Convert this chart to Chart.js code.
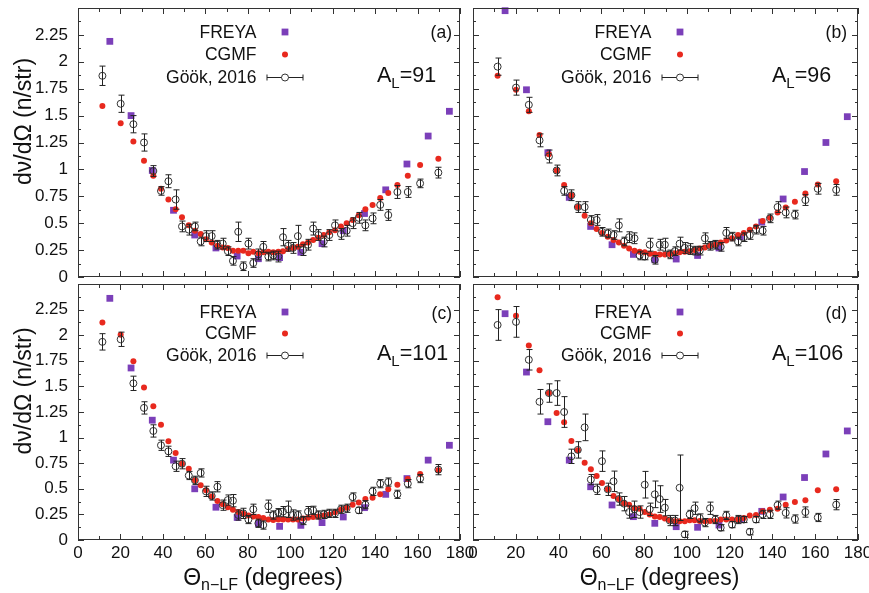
<!DOCTYPE html>
<html>
<head>
<meta charset="utf-8">
<script src="https://cdn.jsdelivr.net/npm/chart.js@4.4.1/dist/chart.umd.min.js"></script>
<style>
  html, body { margin: 0; padding: 0; background: #fff; overflow: hidden; }
  #wrap { position: relative; width: 869px; height: 593px; overflow: hidden; }
  #wrap canvas { position: absolute; left: -40px; top: -40px; }
</style>
</head>
<body>
<div id="wrap">
  <canvas id="pa" width="949" height="673"></canvas>
  <canvas id="pb" width="949" height="673"></canvas>
  <canvas id="pc" width="949" height="673"></canvas>
  <canvas id="pd" width="949" height="673"></canvas>
</div>
<script>
// angles (degrees)
const freyaAngles = [15, 25, 35, 45, 55, 65, 75, 85, 95, 105, 115, 125, 135, 145, 155, 165, 175]
const binAngles = [11.5, 20.1, 26.1, 31.1, 35.5, 39.1, 42.6, 46.0, 49.0, 52.2,
  55.1, 57.8, 60.3, 63.0, 65.7, 68.2, 70.6, 73.0, 75.5, 77.9,
  80.3, 82.6, 85.0, 87.3, 89.7, 92.0, 94.4, 96.6, 99.0, 101.3,
  103.6, 106.0, 108.4, 110.8, 113.3, 115.8, 118.4, 121.1, 123.9, 126.6,
  129.4, 132.3, 135.4, 138.8, 142.4, 146.2, 150.5, 155.4, 161.2, 169.8]

// (a) A_L = 91
const freyaA = [2.19, 1.50, 0.99, 0.62, 0.39, 0.27, 0.195, 0.17, 0.18, 0.23, 0.31, 0.43, 0.59, 0.81, 1.05, 1.31, 1.54]
const cgmfA = [1.59, 1.43, 1.26, 1.08, 0.94, 0.82, 0.72, 0.63, 0.555, 0.48,
  0.43, 0.40, 0.35, 0.32, 0.29, 0.275, 0.27, 0.245, 0.245, 0.245,
  0.22, 0.235, 0.22, 0.23, 0.235, 0.23, 0.235, 0.24, 0.26, 0.27,
  0.28, 0.305, 0.32, 0.345, 0.365, 0.39, 0.415, 0.435, 0.47, 0.50,
  0.53, 0.575, 0.63, 0.67, 0.735, 0.78, 0.855, 0.94, 1.04, 1.10]
const gookA = [1.87, 1.61, 1.42, 1.25, 0.985, 0.80, 0.89, 0.72, 0.47, 0.44,
  0.47, 0.33, 0.38, 0.38, 0.30, 0.31, 0.24, 0.15, 0.42, 0.10,
  0.31, 0.13, 0.21, 0.28, 0.19, 0.20, 0.19, 0.37, 0.29, 0.27,
  0.38, 0.25, 0.30, 0.45, 0.39, 0.33, 0.39, 0.48, 0.40, 0.43,
  0.50, 0.55, 0.48, 0.545, 0.67, 0.576, 0.79, 0.79, 0.87, 0.97]
const gookErrA = [0.09, 0.08, 0.08, 0.08, 0.05, 0.04, 0.06, 0.09, 0.05, 0.05,
  0.04, 0.04, 0.05, 0.05, 0.04, 0.05, 0.04, 0.04, 0.09, 0.04,
  0.05, 0.04, 0.05, 0.05, 0.04, 0.04, 0.05, 0.08, 0.05, 0.05,
  0.10, 0.05, 0.05, 0.06, 0.05, 0.05, 0.05, 0.05, 0.05, 0.05,
  0.05, 0.05, 0.05, 0.05, 0.05, 0.05, 0.06, 0.05, 0.04, 0.05]

// (b) A_L = 96
const freyaB = [2.475, 1.74, 1.155, 0.74, 0.47, 0.30, 0.21, 0.16, 0.167, 0.20, 0.27, 0.375, 0.51, 0.725, 0.98, 1.25, 1.49]
const cgmfB = [1.87, 1.74, 1.54, 1.32, 1.14, 0.99, 0.855, 0.76, 0.65, 0.57,
  0.50, 0.446, 0.41, 0.375, 0.344, 0.32, 0.29, 0.266, 0.245, 0.235,
  0.23, 0.217, 0.214, 0.21, 0.21, 0.214, 0.22, 0.23, 0.235, 0.24,
  0.25, 0.265, 0.275, 0.29, 0.30, 0.32, 0.34, 0.36, 0.39, 0.41,
  0.44, 0.47, 0.52, 0.55, 0.60, 0.645, 0.70, 0.775, 0.86, 0.89]
const gookB = [1.955, 1.76, 1.60, 1.27, 1.12, 0.99, 0.80, 0.76, 0.65, 0.65,
  0.53, 0.53, 0.42, 0.405, 0.39, 0.48, 0.33, 0.37, 0.36, 0.20,
  0.19, 0.30, 0.16, 0.30, 0.30, 0.21, 0.24, 0.31, 0.27, 0.26,
  0.245, 0.245, 0.36, 0.29, 0.30, 0.28, 0.41, 0.375, 0.33, 0.37,
  0.39, 0.44, 0.43, 0.545, 0.65, 0.60, 0.58, 0.715, 0.82, 0.81]
const gookErrB = [0.08, 0.07, 0.07, 0.06, 0.06, 0.05, 0.04, 0.05, 0.05, 0.05,
  0.04, 0.05, 0.04, 0.04, 0.04, 0.06, 0.04, 0.05, 0.05, 0.04,
  0.03, 0.06, 0.04, 0.05, 0.06, 0.04, 0.04, 0.06, 0.05, 0.05,
  0.04, 0.04, 0.05, 0.04, 0.04, 0.04, 0.05, 0.04, 0.04, 0.04,
  0.04, 0.04, 0.04, 0.04, 0.05, 0.05, 0.04, 0.05, 0.05, 0.05]

// (c) A_L = 101
const freyaC = [2.36, 1.68, 1.17, 0.78, 0.50, 0.32, 0.22, 0.16, 0.133, 0.143, 0.17, 0.225, 0.316, 0.446, 0.60, 0.78, 0.925]
const cgmfC = [2.125, 2.005, 1.745, 1.49, 1.305, 1.126, 0.964, 0.85, 0.745, 0.697,
  0.583, 0.534, 0.485, 0.426, 0.38, 0.35, 0.32, 0.296, 0.273, 0.257,
  0.24, 0.23, 0.225, 0.215, 0.20, 0.195, 0.20, 0.20, 0.20, 0.20,
  0.20, 0.21, 0.218, 0.225, 0.23, 0.24, 0.25, 0.27, 0.296, 0.316,
  0.345, 0.365, 0.40, 0.413, 0.446, 0.495, 0.54, 0.596, 0.645, 0.68]
const gookC = [1.935, 1.96, 1.53, 1.29, 1.065, 0.925, 0.866, 0.72, 0.745, 0.63,
  0.583, 0.655, 0.475, 0.43, 0.52, 0.34, 0.39, 0.384, 0.244, 0.26,
  0.20, 0.30, 0.163, 0.146, 0.33, 0.244, 0.267, 0.277, 0.30, 0.244,
  0.244, 0.19, 0.277, 0.29, 0.244, 0.25, 0.26, 0.26, 0.30, 0.31,
  0.42, 0.29, 0.345, 0.475, 0.55, 0.566, 0.446, 0.55, 0.60, 0.687]
const gookErrC = [0.08, 0.07, 0.07, 0.06, 0.06, 0.05, 0.05, 0.05, 0.05, 0.04,
  0.04, 0.04, 0.05, 0.04, 0.05, 0.05, 0.05, 0.06, 0.05, 0.05,
  0.04, 0.05, 0.04, 0.04, 0.06, 0.04, 0.04, 0.05, 0.08, 0.05,
  0.04, 0.04, 0.05, 0.04, 0.04, 0.04, 0.04, 0.04, 0.04, 0.04,
  0.04, 0.03, 0.04, 0.04, 0.04, 0.04, 0.04, 0.04, 0.04, 0.05]

// (d) A_L = 106
const freyaD = [2.21, 1.64, 1.155, 0.78, 0.52, 0.342, 0.228, 0.163, 0.13, 0.124, 0.146, 0.20, 0.28, 0.42, 0.61, 0.84, 1.065]
const cgmfD = [2.37, 2.19, 1.90, 1.657, 1.435, 1.24, 1.15, 0.967, 0.876, 0.755,
  0.69, 0.625, 0.557, 0.495, 0.43, 0.40, 0.36, 0.345, 0.31, 0.306,
  0.273, 0.25, 0.23, 0.225, 0.21, 0.192, 0.182, 0.182, 0.182, 0.192,
  0.192, 0.185, 0.182, 0.185, 0.185, 0.20, 0.20, 0.20, 0.20, 0.215,
  0.24, 0.245, 0.28, 0.296, 0.306, 0.345, 0.37, 0.387, 0.485, 0.495]
const gookD = [2.10, 2.13, 1.76, 1.35, 1.435, 1.435, 1.25, 0.817, 0.88, 1.10,
  0.59, 0.495, 0.77, 0.495, 0.573, 0.40, 0.355, 0.273, 0.30, 0.273,
  0.54, 0.30, 0.446, 0.40, 0.316, 0.19, 0.19, 0.51, 0.055, 0.25,
  0.31, 0.215, 0.17, 0.31, 0.20, 0.12, 0.24, 0.15, 0.20, 0.20,
  0.08, 0.20, 0.25, 0.25, 0.34, 0.265, 0.205, 0.273, 0.22, 0.345]
const gookErrD = [0.15, 0.15, 0.10, 0.12, 0.09, 0.12, 0.15, 0.07, 0.08, 0.13,
  0.05, 0.05, 0.10, 0.06, 0.10, 0.06, 0.07, 0.06, 0.08, 0.06,
  0.13, 0.06, 0.13, 0.13, 0.08, 0.05, 0.05, 0.32, 0.03, 0.04,
  0.06, 0.04, 0.04, 0.06, 0.04, 0.03, 0.04, 0.03, 0.04, 0.03,
  0.03, 0.03, 0.04, 0.04, 0.04, 0.05, 0.04, 0.05, 0.04, 0.05]

const FONT = '"Liberation Sans", Arial, Helvetica, sans-serif'
const PURPLE = '#7b3fb9'
const RED = '#e8291e'
const INK = '#222'
// canvases overhang the page by OFF px on every side so that no automatic padding kicks in
const OFF = 40
const W = 869 + 2 * OFF, H = 593 + 2 * OFF, YW = 50, XH = 40

const panels = [
    { id: 'pa', box: [78, 8, 460, 277], tag: '(a)', mass: '91', freya: freyaA, cgmf: cgmfA, gook: gookA, err: gookErrA,
      showX: false, showY: true, keyRows: [24, 46.5, 69], tagY: 24, massBase: 74 },
    { id: 'pb', box: [473, 8, 858, 277], tag: '(b)', mass: '96', freya: freyaB, cgmf: cgmfB, gook: gookB, err: gookErrB,
      showX: false, showY: false, keyRows: [24, 46.5, 69], tagY: 24, massBase: 74 },
    { id: 'pc', box: [78, 284, 460, 540], tag: '(c)', mass: '101', freya: freyaC, cgmf: cgmfC, gook: gookC, err: gookErrC,
      showX: true, showY: true, keyRows: [28, 49.5, 71], tagY: 29, massBase: 76 },
    { id: 'pd', box: [473, 284, 858, 540], tag: '(d)', mass: '106', freya: freyaD, cgmf: cgmfD, gook: gookD, err: gookErrD,
      showX: true, showY: false, keyRows: [28, 49.5, 71], tagY: 29, massBase: 76 }
]

const richWidth = (ctx, parts)=>{
    let w = 0
    parts.forEach(p=>{ ctx.font = p.size + 'px ' + FONT; w += ctx.measureText(p.t).width })
    return w
}
const drawRich = (ctx, parts, x, y)=>{
    ctx.textAlign = 'left'
    ctx.textBaseline = 'alphabetic'
    parts.forEach(p=>{
        ctx.font = p.size + 'px ' + FONT
        ctx.fillText(p.t, x, y + (p.dy || 0))
        x += ctx.measureText(p.t).width
    })
}

const errorBars = {
    id: 'errorBars',
    afterDatasetsDraw(chart) {
        const ctx = chart.ctx
        const ys = chart.scales.y
        const ds = chart.data.datasets[0]
        const meta = chart.getDatasetMeta(0)
        ctx.save()
        ctx.strokeStyle = INK
        ctx.lineWidth = 1
        meta.data.forEach((pt, i)=>{
            const d = ds.data[i]
            const x = Math.round(pt.x) + 0.5
            const t = ys.getPixelForValue(d.y + d.e)
            const b = ys.getPixelForValue(Math.max(0, d.y - d.e))
            ctx.beginPath()
            ctx.moveTo(x, t); ctx.lineTo(x, b)
            ctx.moveTo(x - 3, t); ctx.lineTo(x + 3, t)
            ctx.moveTo(x - 3, b); ctx.lineTo(x + 3, b)
            ctx.stroke()
        })
        ctx.restore()
    }
}

// border, inward ticks on all sides, key and labels
const gnuplotFrame = {
    id: 'gnuplotFrame',
    afterDraw(chart, args, p) {
        const ctx = chart.ctx
        const {left, top, right, bottom} = chart.chartArea
        const xs = chart.scales.x, ys = chart.scales.y
        ctx.save()
        ctx.strokeStyle = '#333'
        ctx.lineWidth = 1
        ctx.strokeRect(left + 0.5, top + 0.5, right - left - 1, bottom - top - 1)

        ctx.beginPath()
        const xt = xs.ticks.map(t=>t.value)
        xt.forEach((v, i)=>{
            const px = Math.round(xs.getPixelForValue(v)) + 0.5
            ctx.moveTo(px, bottom); ctx.lineTo(px, bottom - 6)
            ctx.moveTo(px, top); ctx.lineTo(px, top + 6)
            if (i < xt.length - 1) {
                const mx = Math.round(xs.getPixelForValue((v + xt[i + 1]) / 2)) + 0.5
                ctx.moveTo(mx, bottom); ctx.lineTo(mx, bottom - 4)
                ctx.moveTo(mx, top); ctx.lineTo(mx, top + 4)
            }
        })
        const yt = ys.ticks.map(t=>t.value)
        yt.forEach((v, i)=>{
            const py = Math.round(ys.getPixelForValue(v)) + 0.5
            ctx.moveTo(left, py); ctx.lineTo(left + 6, py)
            ctx.moveTo(right, py); ctx.lineTo(right - 6, py)
            if (i < yt.length - 1) {
                const my = Math.round(ys.getPixelForValue((v + yt[i + 1]) / 2)) + 0.5
                ctx.moveTo(left, my); ctx.lineTo(left + 3, my)
                ctx.moveTo(right, my); ctx.lineTo(right - 3, my)
            }
        })
        ctx.stroke()

        // key
        const names = ['FREYA', 'CGMF', 'Göök, 2016']
        const tx = left + 178.5, mx = left + 207
        ctx.fillStyle = '#111'
        ctx.font = '17.5px ' + FONT
        ctx.textAlign = 'right'
        ctx.textBaseline = 'middle'
        names.forEach((n, i)=>ctx.fillText(n, tx, top + p.keyRows[i] + 1))

        const r0 = top + p.keyRows[0]
        ctx.fillStyle = PURPLE
        ctx.fillRect(mx - 3.4, r0 - 3.4, 6.8, 6.8)
        const r1 = top + p.keyRows[1]
        ctx.fillStyle = RED
        ctx.beginPath(); ctx.arc(mx, r1, 3, 0, Math.PI * 2); ctx.fill()
        const r2 = Math.round(top + p.keyRows[2]) + 0.5
        ctx.strokeStyle = INK
        ctx.beginPath()
        ctx.moveTo(mx - 18, r2); ctx.lineTo(mx - 3.5, r2)
        ctx.moveTo(mx + 3.5, r2); ctx.lineTo(mx + 18, r2)
        ctx.moveTo(mx - 18, r2 - 3); ctx.lineTo(mx - 18, r2 + 3)
        ctx.moveTo(mx + 18, r2 - 3); ctx.lineTo(mx + 18, r2 + 3)
        ctx.stroke()
        ctx.strokeStyle = '#333'
        ctx.beginPath(); ctx.arc(mx, r2, 3.5, 0, Math.PI * 2); ctx.stroke()

        // panel tag and mass label
        ctx.fillStyle = '#111'
        ctx.font = '17.5px ' + FONT
        ctx.textAlign = 'right'
        ctx.textBaseline = 'middle'
        ctx.fillText(p.tag, left + 374, top + p.tagY + 1)
        drawRich(ctx, [{t: 'A', size: 21.5}, {t: 'L', size: 15, dy: 6}, {t: '=' + p.mass, size: 21.5}], left + 299, top + p.massBase)

        // axis titles
        if (p.showY) {
            ctx.save()
            const cy = (top + bottom) / 2 - 21
            ctx.translate(OFF + 31, cy)
            ctx.rotate(-Math.PI / 2)
            ctx.font = '23px ' + FONT
            ctx.textAlign = 'center'
            ctx.textBaseline = 'alphabetic'
            ctx.fillText('dν/dΩ (n/str)', 0, 0)
            ctx.restore()
        }
        if (p.showX) {
            const parts = [{t: 'Θ', size: 23}, {t: 'n−LF', size: 16, dy: 5}, {t: ' (degrees)', size: 23}]
            const w = richWidth(ctx, parts)
            drawRich(ctx, parts, (left + right) / 2 - 6 - w / 2, OFF + 585)
        }
        ctx.restore()
    }
}

panels.forEach(p=>{
    const [L, T, R, B] = p.box.map(v=>v + OFF)
    const toPts = (xs, ys)=>xs.map((x, i)=>({x: x, y: ys[i]}))
    new Chart(document.getElementById(p.id).getContext('2d'), {
        type: 'scatter',
        data: {
            datasets: [{
                label: 'Göök, 2016',
                data: binAngles.map((x, i)=>({x: x, y: p.gook[i], e: p.err[i]})),
                pointStyle: 'circle',
                pointRadius: 3.5,
                backgroundColor: 'rgba(0,0,0,0)',
                borderColor: '#333',
                pointBorderWidth: 1,
                clip: false,
                order: 0
            }, {
                label: 'CGMF',
                data: toPts(binAngles, p.cgmf),
                pointStyle: 'circle',
                pointRadius: 3,
                backgroundColor: RED,
                pointBorderWidth: 0,
                borderWidth: 0,
                clip: false,
                order: 1
            }, {
                label: 'FREYA',
                data: toPts(freyaAngles, p.freya),
                pointStyle: 'rect',
                pointRadius: 4.8,
                backgroundColor: PURPLE,
                pointBorderWidth: 0,
                borderWidth: 0,
                clip: false,
                order: 2
            }]
        },
        options: {
            responsive: false,
            animation: false,
            devicePixelRatio: 1,
            events: [],
            layout: {
                padding: { left: L - YW, top: T, right: W - R, bottom: H - B - XH }
            },
            plugins: {
                legend: { display: false },
                tooltip: { enabled: false },
                gnuplotFrame: p
            },
            scales: {
                x: {
                    type: 'linear', min: 0, max: 180,
                    grid: { display: false, drawTicks: false },
                    border: { display: false },
                    ticks: { stepSize: 20, display: p.showX, padding: 3, color: '#111', font: { size: 17, family: FONT } },
                    afterFit: (s)=>{ s.height = XH }
                },
                y: {
                    min: 0, max: 2.5,
                    grid: { display: false, drawTicks: false },
                    border: { display: false },
                    ticks: { stepSize: 0.25, display: p.showY, padding: 10, color: '#111', font: { size: 17, family: FONT },
                        callback: (v)=> v > 2.4 ? '' : v },
                    afterFit: (s)=>{ s.width = YW }
                }
            }
        },
        plugins: [errorBars, gnuplotFrame]
    })
})
</script>
</body>
</html>
